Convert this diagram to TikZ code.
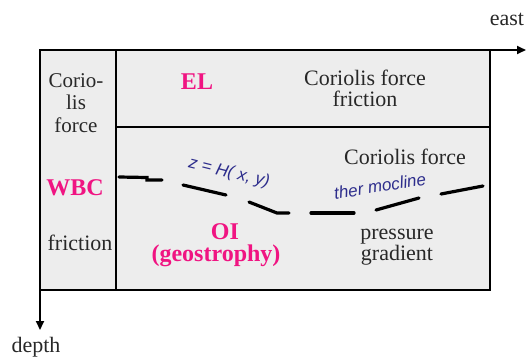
\documentclass[tikz,border=0pt]{standalone}
\usepackage{fontspec}
\setmainfont{Liberation Serif}
\newfontfamily\bluefont{Liberation Sans}
\usetikzlibrary{arrows.meta}
\definecolor{boxgray}{RGB}{237,237,237}
\definecolor{hot}{RGB}{240,20,130}
\definecolor{ink}{RGB}{40,40,40}
\definecolor{penblue}{RGB}{45,45,140}
\tikzset{
  frame/.style={draw=black,line width=2.6pt,fill=boxgray},
  axis/.style={draw=black,line width=1.8pt,-{Triangle[length=9pt,width=8pt]}},
  plain/.style={font=\fontsize{22}{21}\selectfont,text=ink,align=center,inner sep=0pt},
  region/.style={font=\fontsize{24}{25}\selectfont\bfseries,text=hot,align=center,inner sep=0pt},
  hand/.style={font=\fontsize{17}{18}\selectfont\bluefont\itshape,text=penblue,inner sep=0pt},
  thermo/.style={draw=black,line width=3.2pt,line cap=round}
}
\begin{document}
\begin{tikzpicture}[x=1pt,y=-1pt]
\useasboundingbox (0,0) rectangle (528,360);
% frame
\coordinate (tl) at (40,50);
\coordinate (br) at (490,290);
\coordinate (bl) at (40,290);
\coordinate (eastend) at (526,50);
\coordinate (depthend) at (40,330);
\path[frame] (tl) rectangle (br);
\draw[black,line width=2.6pt] (116,50) -- (116,290);
\draw[black,line width=2.6pt] (116,127) -- (490,127);
\draw[axis] (tl) -- (eastend);
\draw[axis] (bl) -- (depthend);
% labels
\node[plain] (east) at (507,19) {east};
\node[plain] (depth) at (36,347) {depth};
\node[plain,font=\fontsize{21}{22.5}\selectfont] (cor1) at (76,103) {Corio-\\lis\\force};
\node[region] (el) at (197,82) {EL};
\node[plain] (cf1) at (365,88) {Coriolis force\\friction};
\node[plain] (cf2) at (405,157) {Coriolis force};
\node[region] (wbc) at (75,188) {WBC};
\node[plain] (fr) at (80,243) {friction};
\node[region] (oi) at (225,232) {OI};
\node[region] (geo) at (216,256) {(geostrophy)};
\node[plain] (pg) at (397,247) {pressure\\gradient};
% thermocline
\draw[thermo] (119,177) -- (147,177.5) -- (147,180) -- (162,180);
\draw[thermo] (183,185) -- (226,195);
\draw[thermo] (249,202) -- (277,213) -- (289,213);
\draw[thermo] (311,213) -- (354,213);
\draw[thermo] (376,210) -- (419,198);
\draw[thermo] (441,194) -- (483,186);
\node[hand,rotate=-14] (zh) at (229,173) {z = H( x, y)};
\node[hand,rotate=9] (th) at (380,186) {ther mocline};
\end{tikzpicture}
\end{document}
